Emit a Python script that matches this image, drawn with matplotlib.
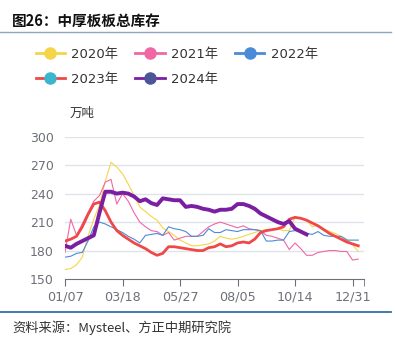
import numpy as np
import matplotlib
matplotlib.use("Agg")
import matplotlib.pyplot as plt
from matplotlib.lines import Line2D

plt.rcParams["font.family"] = ["DejaVu Sans", "Noto Sans CJK SC"]
CJK = ["Noto Sans CJK SC", "DejaVu Sans"]

# weekly inventory, 万吨
y2020 = [160, 161, 165, 173, 195, 213, 228, 253, 273, 268, 261, 250, 238, 226, 221, 216,
         212, 204, 200, 196, 191, 188, 185, 185, 186, 187, 190, 195, 193, 192, 193, 195,
         197, 199, 201, 202, 202, 203, 201, 201, 215, 214, 212, 205, 207, 203, 200, 198,
         195, 192, 186, 179]
y2021 = [178, 213, 196, 208, 220, 232, 238, 252, 255, 229, 240, 232, 220, 210, 205, 201,
         200, 196, 199, 191, 193, 195, 195, 195, 200, 205, 208, 210, 208, 206, 204, 206,
         203, 202, 201, 196, 195, 193, 191, 181, 188, 182, 175, 175, 178, 179, 180, 180,
         179, 179, 170, 171]
y2022 = [173, 174, 177, 178, 190, 205, 210, 208, 205, 202, 199, 195, 192, 188, 196, 197,
         198, 196, 205, 203, 202, 200, 195, 195, 196, 203, 199, 199, 202, 201, 200, 202,
         202, 202, 201, 190, 190, 191, 191, 200, 201, 200, 198, 197, 200, 196, 195, 195,
         195, 191, 191, 191]
y2023 = [190, 192, 195, 205, 218, 229, 231, 222, 210, 201, 196, 192, 188, 185, 182, 178,
         175, 177, 184, 184, 183, 182, 181, 180, 180, 183, 184, 187, 184, 185, 188, 189,
         188, 192, 199, 201, 202, 203, 205, 213, 215, 214, 212, 209, 206, 202, 198, 195,
         192, 189, 187, 185]
y2024 = [185, 183, 187, 190, 193, 196, 220, 242, 242, 240, 241, 240, 237, 232, 234, 230,
         228, 235, 234, 233, 233, 226, 227, 226, 224, 223, 221, 223, 223, 224, 229, 229,
         227, 224, 219, 216, 213, 210, 208, 211, 203, 200, 197]

tick_pos = [0, 10, 20, 30, 40, 50]
tick_labels = ["01/07", "03/18", "05/27", "08/05", "10/14", "12/31"]
years = ["2020年", "2021年", "2022年", "2023年", "2024年"]

line_cols = ["#f5d547", "#f067a6", "#4a8bd8", "#f04848", "#7b1fa2"]
mark_cols = ["#f5d547", "#f067a6", "#4a8bd8", "#3cb6cf", "#4b5598"]
widths = [0.8, 0.8, 0.8, 2.0, 2.8]
series = [y2020, y2021, y2022, y2023, y2024]

fig = plt.figure(figsize=(3.95, 3.45), dpi=100)
ax = fig.add_axes([0.1646, 0.1913, 0.757, 0.4125])

for ys, c, lw in zip(series, line_cols, widths):
    ax.plot(np.arange(len(ys)), ys, color=c, lw=lw, solid_joinstyle="round", zorder=3)

ax.set_xlim(0, 52)
ax.set_ylim(150, 300)
ax.set_yticks([150, 180, 210, 240, 270, 300])
ax.set_xticks(tick_pos)
ax.set_xticklabels(tick_labels)
ax.set_xticks([52], minor=True)
for v in [180, 210, 240, 270, 300]:
    ax.axhline(v, color="#e0e3ea", lw=1.0, zorder=1)
for s in ["top", "right", "left"]:
    ax.spines[s].set_visible(False)
ax.spines["bottom"].set_color("#6e7079")
ax.tick_params(axis="y", length=0, pad=8, labelsize=9, labelcolor="#6e7079")
ax.tick_params(axis="x", which="both", length=5, color="#6e7079", pad=3,
               labelsize=9.2, labelcolor="#6e7079")

fig.text(82 / 395, 1 - 113 / 345, "万吨", ha="center", va="center",
         fontsize=9, color="#333333", family=CJK)

# legend: handles reordered so that column filling gives two rows of 3 + 2
order = [0, 3, 1, 4, 2]
handles = [Line2D([], [], color=line_cols[i], lw=2, marker="o", markersize=8,
                  markerfacecolor=mark_cols[i], markeredgecolor=mark_cols[i])
           for i in order]
fig.legend(handles, [years[i] for i in order], ncol=3, frameon=False,
           loc="upper left", bbox_to_anchor=(0.06, 1 - 36 / 345),
           fontsize=9.5, handlelength=2.2, handletextpad=0.5,
           columnspacing=1.3, labelspacing=0.9, labelcolor="#333333")

fig.text(12 / 395, 1 - 21 / 345, "图26：中厚板板总库存", ha="left", va="center",
         fontsize=10.5, fontweight="bold", color="#111111", family=CJK)
fig.add_artist(Line2D([0, 0.99], [1 - 31.5 / 345] * 2, color="#8ea4bf", lw=1.0))
fig.add_artist(Line2D([0, 0.99], [1 - 312 / 345] * 2, color="#2f6ea5", lw=1.3))
fig.text(12 / 395, 1 - 328 / 345, "资料来源：Mysteel、方正中期研究院", ha="left",
         va="center", fontsize=9.5, color="#333333", style="italic", family=CJK)

fig.savefig("out.png", dpi=100)
